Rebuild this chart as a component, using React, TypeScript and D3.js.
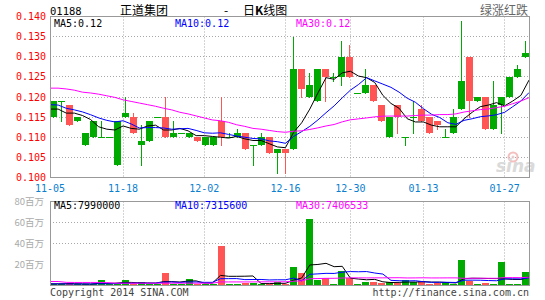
import React from 'react';
import * as d3 from 'd3';

const dates = [
  '11-05','11-06','11-07','11-08','11-11','11-12','11-13','11-14','11-15','11-18','11-19','11-20','11-21','11-22','11-25','11-26','11-27','11-28','11-29',
  '12-02','12-03','12-04','12-05','12-06','12-09','12-10','12-11','12-12','12-13','12-16','12-17','12-18','12-19','12-20','12-23','12-24','12-27','12-30','12-31',
  '01-02','01-03','01-06','01-07','01-08','01-09','01-10','01-13','01-14','01-15','01-16','01-17','01-20','01-21','01-22','01-23','01-24','01-27','01-28','01-29','01-30'
];
const opens = [
  0.115,0.119,0.118,0.114,0.108,0.110,0.110,0.110,0.103,0.115,0.115,0.108,0.109,0.115,0.115,0.110,0.111,0.110,0.110,0.108,
  0.108,0.114,0.110,0.110,0.111,0.108,0.108,0.110,0.106,0.107,0.107,0.127,0.120,0.119,0.127,0.125,0.125,0.130,0.121,0.121,
  0.123,0.118,0.110,0.118,0.110,0.115,0.117,0.115,0.114,0.110,0.111,0.117,0.130,0.119,0.120,0.112,0.118,0.120,0.125,0.130
];
const highs = [
  0.119,0.119,0.118,0.115,0.111,0.114,0.114,0.110,0.114,0.120,0.116,0.113,0.114,0.115,0.120,0.114,0.111,0.111,0.110,0.110,
  0.110,0.120,0.111,0.112,0.111,0.108,0.111,0.110,0.107,0.107,0.135,0.127,0.126,0.127,0.127,0.126,0.134,0.133,0.121,0.127,
  0.123,0.118,0.115,0.118,0.110,0.119,0.118,0.115,0.114,0.112,0.117,0.139,0.130,0.120,0.120,0.124,0.120,0.125,0.128,0.134
];
const lows = [
  0.115,0.114,0.113,0.114,0.108,0.110,0.110,0.110,0.103,0.115,0.111,0.103,0.109,0.115,0.110,0.110,0.111,0.110,0.109,0.108,
  0.108,0.108,0.110,0.110,0.107,0.103,0.108,0.106,0.101,0.101,0.107,0.120,0.120,0.119,0.119,0.124,0.123,0.125,0.121,0.121,
  0.119,0.114,0.110,0.111,0.108,0.111,0.114,0.111,0.112,0.110,0.111,0.117,0.115,0.119,0.112,0.112,0.111,0.120,0.125,0.130
];
const closes = [
  0.119,0.119,0.113,0.115,0.111,0.114,0.110,0.110,0.114,0.116,0.111,0.109,0.114,0.115,0.110,0.111,0.111,0.111,0.109,0.110,
  0.110,0.110,0.110,0.111,0.107,0.108,0.110,0.106,0.107,0.106,0.127,0.122,0.123,0.127,0.125,0.125,0.130,0.125,0.121,0.123,
  0.119,0.114,0.115,0.115,0.110,0.115,0.114,0.111,0.113,0.110,0.115,0.124,0.119,0.120,0.112,0.118,0.120,0.125,0.127,0.131
];
// volume in 百万 (millions)
const volumes = [
  1.9,1.6,2.0,1.0,1.3,1.0,5.1,1.6,1.6,5.1,1.3,3.2,1.0,1.0,11.8,1.6,1.0,6.0,1.6,1.6,
  1.3,37.7,1.6,1.6,2.0,2.5,1.6,1.3,3.2,1.6,17.5,12.0,63.4,5.7,7.0,1.5,13.7,7.0,1.5,3.5,
  3.5,2.2,3.5,2.2,5.0,3.5,4.0,1.5,2.0,3.0,1.7,24.0,4.0,1.5,2.0,1.4,22.5,1.6,1.15,13.3
];
// moving-average values before enough history exists in the window
const ma5Head = [0.1170, 0.1170, 0.1160, 0.1160];
const ma10Head = [0.1181, 0.1180, 0.1172, 0.1168, 0.1163, 0.1156, 0.1148, 0.1142, 0.1138];
const ma30Head = [
  0.1222,0.1222,0.1220,0.1217,0.1212,0.1210,0.1207,0.1203,0.1199,0.1193,0.1189,0.1185,0.1181,0.1177,0.1172,
  0.1168,0.1162,0.1158,0.1153,0.1148,0.1143,0.1141,0.1137,0.1131,0.1127,0.1122,0.1120,0.1117,0.1114
];
const volMa5Head = [1.6, 1.6, 1.7, 1.7];
const volMa10Head = [1.5, 1.5, 1.5, 1.4, 1.4, 1.4, 1.6, 1.6, 1.7];
const volMa30Head = [
  3.8,3.8,3.0,2.9,2.9,2.9,2.9,2.8,2.3,2.2,2.2,2.2,2.2,2.2,2.2,2.2,2.2,2.2,2.2,2.2,2.2,
  3.4,3.4,3.4,3.4,3.4,3.5,3.5,3.5
];

const priceTicks = [0.100, 0.105, 0.110, 0.115, 0.120, 0.125, 0.130, 0.135, 0.140];
const priceGrid = [0.105, 0.110, 0.115, 0.120, 0.125, 0.130, 0.135];
const volTicks = [20, 40, 60, 80];
const volGrid = [40, 60];
const dateTicks = ['11-05', '11-18', '12-02', '12-16', '12-30', '01-13', '01-27'];
const priceMaLabels = ['MA5:0.12', 'MA10:0.12', 'MA30:0.12'];
const volMaLabels = ['MA5:7990000', 'MA10:7315600', 'MA30:7406533'];

const GREEN = '#00AA00';
const RED = '#FF5555';
const MA_COLORS = ['#000000', '#0000FF', '#FF00FF'];
const MONO = '"DejaVu Sans Mono", "Liberation Mono", monospace';
const CJK = '"Noto Sans CJK SC", "Noto Sans", sans-serif';

function movingAvg(values: number[], period: number, head: number[]): number[] {
  return values.map((_, i) =>
    i < period - 1 ? head[i] : (d3.mean(values.slice(i - period + 1, i + 1)) as number)
  );
}

export default function App() {
  const n = dates.length;
  const left = 50, right = 530;
  const pTop = 16.5, pBot = 177.5;
  const vTop = 201.5, vBot = 285.5;

  const xBand = d3.scaleBand<number>().domain(d3.range(n)).range([left, right])
    .paddingInner(0.125).paddingOuter(0.0625).align(0);
  const xLine = d3.scaleLinear().domain([0, n - 1]).range([left, 529]);
  const yP = d3.scaleLinear().domain([0.1, 0.14]).range([pBot, pTop]);
  const yV = d3.scaleLinear().domain([0, 80]).range([vBot, vTop]);
  const crisp = (v: number) => Math.round(v - 0.5) + 0.5;

  const pMAs = [movingAvg(closes, 5, ma5Head), movingAvg(closes, 10, ma10Head), movingAvg(closes, 30, ma30Head)];
  const vMAs = [movingAvg(volumes, 5, volMa5Head), movingAvg(volumes, 10, volMa10Head), movingAvg(volumes, 30, volMa30Head)];
  const pLine = d3.line<number>().x((_, i) => xLine(i)).y(d => yP(d));
  const vLine = d3.line<number>().x((_, i) => xLine(i)).y(d => yV(d));

  const bw = xBand.bandwidth();
  const gridX = dateTicks.slice(1).map(d => crisp(xLine(dates.indexOf(d))));

  return (
    <svg width={545} height={300} style={{ position: 'absolute', left: 0, top: 0, background: '#fff' }}
      xmlns="http://www.w3.org/2000/svg">
      <rect x={0} y={0} width={545} height={300} fill="#fff" />
      {/* header */}
      <text x={50} y={15} fontFamily={MONO} fontSize={10.5} fill="#000">01188</text>
      <text x={120} y={15} fontFamily={CJK} fontSize={12} fill="#000">正道集团</text>
      <text x={224} y={15} fontFamily={CJK} fontSize={12} fill="#000">-</text>
      <text x={243} y={15} fontFamily={CJK} fontSize={12} fill="#000">日<tspan fontWeight="bold">K</tspan>线图</text>
      <text x={528} y={15} textAnchor="end" fontFamily={CJK} fontSize={12} fill="#666">绿涨红跌</text>

      {/* price grid */}
      {priceGrid.map(t => (
        <line key={'pg' + t} x1={left} x2={right} y1={crisp(yP(t))} y2={crisp(yP(t))}
          stroke="#a8a8a8" strokeDasharray="1,2" />
      ))}
      {gridX.map(x => (
        <line key={'pv' + x} x1={x} x2={x} y1={pTop} y2={pBot} stroke="#a8a8a8" strokeDasharray="1,2" />
      ))}
      {/* volume grid */}
      {volGrid.map(t => (
        <line key={'vg' + t} x1={left} x2={right} y1={crisp(yV(t))} y2={crisp(yV(t))}
          stroke="#a8a8a8" strokeDasharray="1,2" />
      ))}
      {gridX.map(x => (
        <line key={'vv' + x} x1={x} x2={x} y1={vTop} y2={vBot} stroke="#a8a8a8" strokeDasharray="1,2" />
      ))}

      {/* sina watermark */}
      <g opacity={0.9}>
        <circle cx={513} cy={157} r={4.5} fill="none" stroke="#f3b9b9" strokeWidth={2} />
        <circle cx={513} cy={157} r={1.5} fill="#e8c8c8" />
        <text x={496} y={172} fontFamily='"DejaVu Sans", sans-serif' fontStyle="italic" fontWeight="bold"
          fontSize={17} fill="#d6d6d6">sina</text>
      </g>

      {/* candles */}
      {dates.map((d, i) => {
        const o = opens[i], c = closes[i], h = highs[i], l = lows[i];
        const col = c >= o ? GREEN : RED;
        const x0 = xBand(i) as number;
        const top = Math.round(yP(Math.max(o, c)));
        const bot = Math.round(yP(Math.min(o, c)));
        const cx = x0 + Math.floor(bw / 2) + 0.5;
        return (
          <g key={'c' + d}>
            <line x1={cx} x2={cx} y1={Math.round(yP(h))} y2={Math.round(yP(l)) + 1} stroke={col} />
            <rect x={x0} y={top} width={bw} height={Math.max(1, bot - top)} fill={col} />
          </g>
        );
      })}
      {/* price MAs */}
      {pMAs.map((m, k) => (
        <path key={'pm' + k} d={pLine(m) as string} fill="none" stroke={MA_COLORS[k]} strokeWidth={1} />
      ))}

      {/* volume bars */}
      {dates.map((d, i) => {
        const col = closes[i] >= opens[i] ? GREEN : RED;
        const x0 = xBand(i) as number;
        const top = Math.round(yV(volumes[i]));
        return <rect key={'v' + d} x={x0} y={top} width={bw} height={Math.max(1, 285 - top)} fill={col} />;
      })}
      {vMAs.map((m, k) => (
        <path key={'vm' + k} d={vLine(m) as string} fill="none" stroke={MA_COLORS[k]} strokeWidth={1} />
      ))}

      {/* borders */}
      <rect x={50.5} y={pTop} width={479} height={pBot - pTop} fill="none" stroke="#999" />
      <rect x={50.5} y={vTop} width={479} height={vBot - vTop} fill="none" stroke="#999" />

      {/* price axis labels */}
      {priceTicks.map(t => (
        <text key={'pt' + t} x={46} y={yP(t) + 3.5} textAnchor="end" fontFamily={MONO} fontSize={10} fill="#FF0000">
          {d3.format('.3f')(t)}
        </text>
      ))}
      {/* date labels */}
      {dateTicks.map(d => (
        <text key={'dt' + d} x={xLine(dates.indexOf(d))} y={192} textAnchor="middle" fontFamily={MONO}
          fontSize={10} fill="#0A80D0">{d}</text>
      ))}
      {/* volume axis labels */}
      {volTicks.map(t => (
        <text key={'vt' + t} x={44} y={yV(t) + 3.5} textAnchor="end" fontFamily={CJK} fontSize={9.5} fill="#aaaaaa">
          {t}百万
        </text>
      ))}

      {/* MA legends */}
      {priceMaLabels.map((s, k) => (
        <text key={'pl' + k} x={54 + k * 121} y={27} fontFamily={MONO} fontSize={10} fill={MA_COLORS[k]}>{s}</text>
      ))}
      {volMaLabels.map((s, k) => (
        <text key={'vl' + k} x={54 + k * 121} y={209} fontFamily={MONO} fontSize={10} fill={MA_COLORS[k]}>{s}</text>
      ))}

      {/* footer */}
      <text x={50} y={296} fontFamily={MONO} fontSize={10} fill="#444">Copyright 2014 SINA.COM</text>
      <text x={529} y={296} textAnchor="end" fontFamily={MONO} fontSize={10} fill="#444">http://finance.sina.com.cn</text>
    </svg>
  );
}
